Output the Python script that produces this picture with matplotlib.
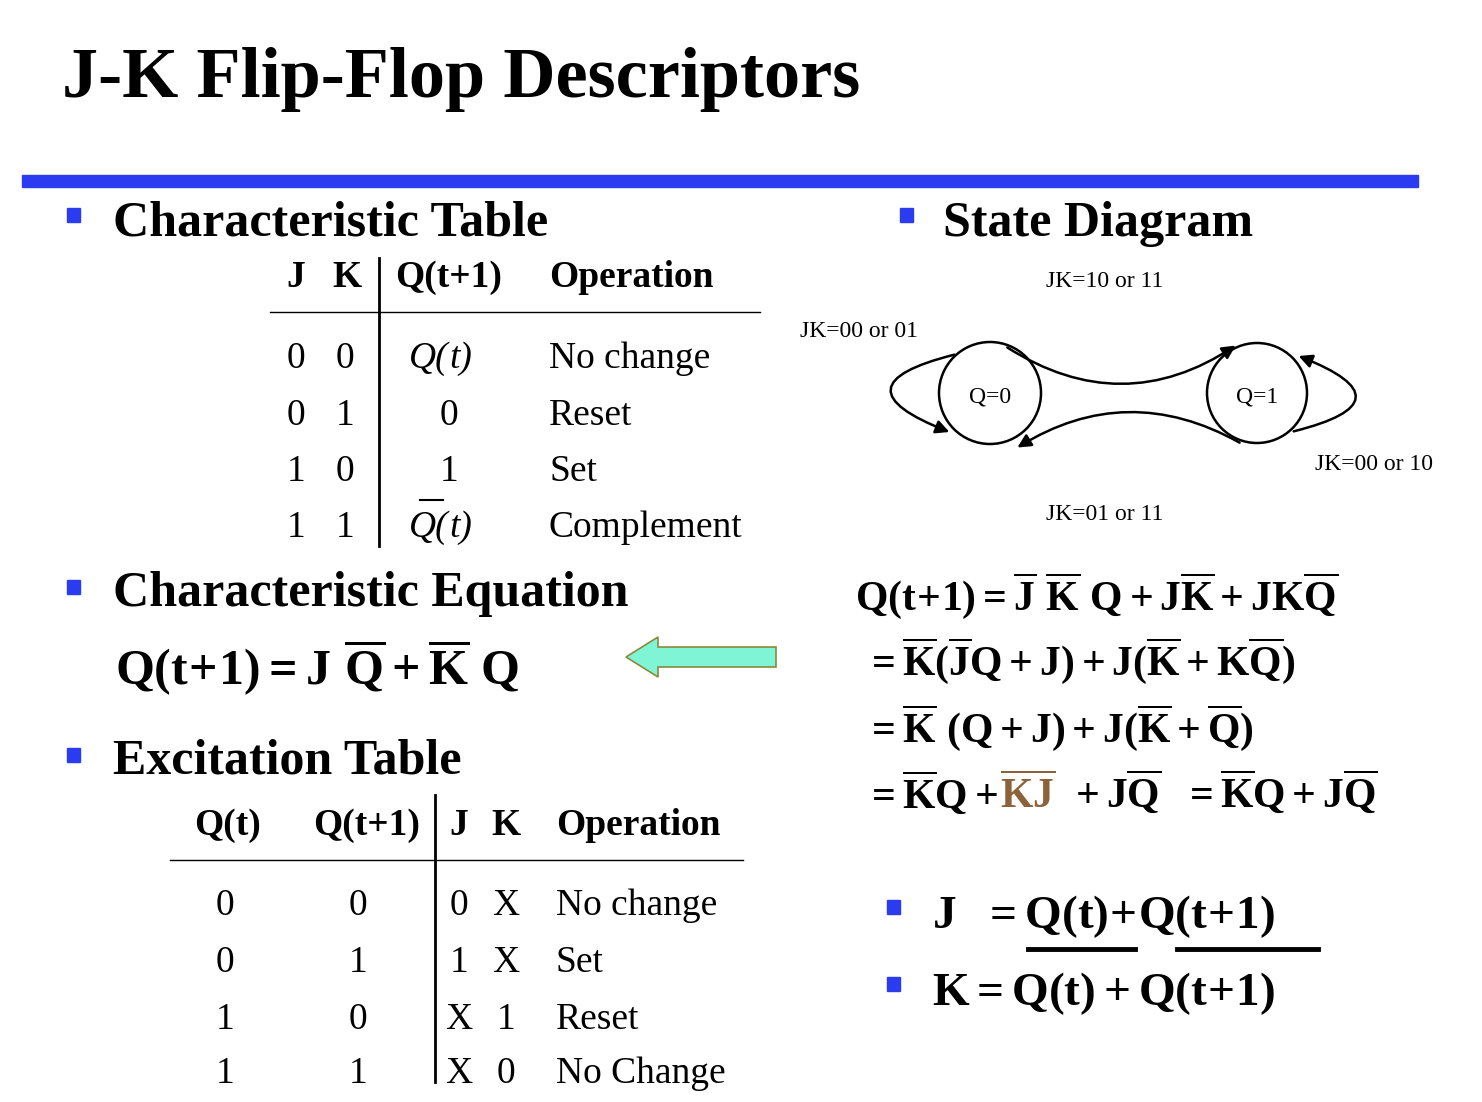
import matplotlib
matplotlib.use("Agg")
import matplotlib.pyplot as plt
from matplotlib.patches import Circle, FancyArrowPatch, Arc, FancyArrow, Rectangle

plt.rcParams['mathtext.fontset'] = 'custom'
plt.rcParams['mathtext.rm'] = 'Liberation Serif:bold'
plt.rcParams['mathtext.it'] = 'Liberation Serif:bold'
plt.rcParams['mathtext.bf'] = 'Liberation Serif:bold'

SERIF = 'Liberation Serif'
BLUE = '#2b3cf0'

title = "J-K Flip-Flop Descriptors"
char_header = ["J", "K", "Q(t+1)", "Operation"]
char_J = ["0", "0", "1", "1"]
char_K = ["0", "1", "0", "1"]
char_Q = ["Q(t)", "0", "1", "Q(t)"]
char_op = ["No change", "Reset", "Set", "Complement"]
exc_header = ["Q(t)", "Q(t+1)", "J", "K", "Operation"]
exc_Qt = ["0", "0", "1", "1"]
exc_Qn = ["0", "1", "0", "1"]
exc_J = ["0", "1", "X", "X"]
exc_K = ["X", "X", "1", "0"]
exc_op = ["No change", "Set", "Reset", "No Change"]
states = ["Q=0", "Q=1"]
transitions = ["JK=10 or 11", "JK=00 or 01", "JK=00 or 10", "JK=01 or 11"]

fig = plt.figure(figsize=(14.82, 11.02), dpi=100)
ax = fig.add_axes([0, 0, 1, 1])
ax.set_xlim(0, 1482)
ax.set_ylim(1102, 0)
ax.axis('off')

def txt(x, y, s, size, bold=False, ha='left', style='normal', color='black', family=SERIF):
    return ax.text(x, y, s, fontsize=size, fontweight='bold' if bold else 'normal',
                   ha=ha, va='baseline', family=family, style=style, color=color)

txt(62, 97, title, 52, bold=True)
ax.add_patch(Rectangle((22, 175), 1396, 12, color=BLUE))

def bullet(x, y):
    ax.add_patch(Rectangle((x, y), 13, 14, color=BLUE))

# Characteristic table
bullet(67, 208)
txt(113, 236, "Characteristic Table", 36, bold=True)
hx = [296, 347, 449, 549]
for i, h in enumerate(char_header):
    txt(hx[i], 287, h, 27, bold=True, ha='left' if i == 3 else 'center')
ax.plot([379, 379], [258, 546], color='black', lw=2)
ax.plot([270, 760], [312, 312], color='black', lw=1)
rows_y = [368, 425, 481, 537]
for i, y in enumerate(rows_y):
    txt(296, y, char_J[i], 27, ha='center')
    txt(345, y, char_K[i], 27, ha='center')
    it = char_Q[i] != "0" and char_Q[i] != "1"
    if it:
        txt(449, y, "Q(", 27, ha='right', style='italic')
        txt(449, y, "t)", 27, ha='left', style='italic')
    else:
        txt(449, y, char_Q[i], 27, ha='center')
    txt(549, y, char_op[i], 27)
ax.plot([420, 443], [500, 500], color='black', lw=1.5)

# Characteristic equation
bullet(67, 580)
txt(113, 606, "Characteristic Equation", 36, bold=True)
ax.text(115, 685, r'$\mathrm{Q(t\!+\!1) = J\ \overline{Q} + \overline{K}\ Q}$', fontsize=36, va='baseline')
ax.add_patch(FancyArrow(776, 657, -150, 0, width=20, head_width=40, head_length=32,
                        length_includes_head=True, facecolor='#80f5d5', edgecolor='#8a8a3a', lw=1.2))

# Excitation table
bullet(67, 748)
txt(113, 773, "Excitation Table", 36, bold=True)
ex = [227, 367, 459, 506, 556]
for i, h in enumerate(exc_header):
    txt(ex[i], 835, h, 27, bold=True, ha='left' if i == 4 else 'center')
ax.plot([435, 435], [795, 1082], color='black', lw=2)
ax.plot([170, 743], [860, 860], color='black', lw=1)
rows_y2 = [915, 972, 1029, 1083]
for i, y in enumerate(rows_y2):
    txt(225, y, exc_Qt[i], 27, ha='center')
    txt(358, y, exc_Qn[i], 27, ha='center')
    txt(459, y, exc_J[i], 27, ha='center')
    txt(506, y, exc_K[i], 27, ha='center')
    txt(556, y, exc_op[i], 27)

# State diagram
bullet(900, 208)
txt(943, 236, "State Diagram", 36, bold=True)
c0, c1 = (990, 393), (1257, 393)
ax.add_patch(Circle(c0, 51, fill=False, lw=1.8))
ax.add_patch(Circle(c1, 50, fill=False, lw=1.8))
txt(c0[0], 402, states[0], 17, ha='center')
txt(c1[0], 402, states[1], 17, ha='center')
ax.add_patch(FancyArrowPatch((1005, 346), (1238, 344), connectionstyle='arc3,rad=0.33',
                             arrowstyle='-|>,head_length=8,head_width=4', lw=1.8, color='black'))
ax.add_patch(FancyArrowPatch((1242, 444), (1015, 449), connectionstyle='arc3,rad=0.3',
                             arrowstyle='-|>,head_length=8,head_width=4', lw=1.8, color='black'))
ax.add_patch(FancyArrowPatch((957, 354), (952, 433), connectionstyle='arc3,rad=1.6',
                             arrowstyle='-|>,head_length=8,head_width=4', lw=1.8, color='black'))
ax.add_patch(FancyArrowPatch((1291, 432), (1296, 355), connectionstyle='arc3,rad=1.6',
                             arrowstyle='-|>,head_length=8,head_width=4', lw=1.8, color='black'))
txt(1105, 287, transitions[0], 17, ha='center')
txt(800, 337, transitions[1], 17)
txt(1315, 470, transitions[2], 17)
txt(1105, 520, transitions[3], 17, ha='center')

# Derivation
eq = [
    (855, 610, [(r'$\mathrm{Q(t\!+\!1) = \overline{J}\ \overline{K}\ Q + J\overline{K} + JK\overline{Q}}$', 'black')]),
    (865, 675, [(r'$\mathrm{= \overline{K}(\overline{J}Q + J) + J(\overline{K} + K\overline{Q})}$', 'black')]),
    (865, 742, [(r'$\mathrm{= \overline{K}\ (Q + J) + J(\overline{K} + \overline{Q})}$', 'black')]),
    (865, 808, [(r'$\mathrm{= \overline{K}Q +\ }$', 'black'), (r'$\mathrm{\overline{KJ}}$', '#8c6239'),
                (r'$\mathrm{\ +J\overline{Q}\ \ = \overline{K}Q + J\overline{Q}}$', 'black')]),
]
fig.canvas.draw()
r = fig.canvas.get_renderer()
inv = ax.transData.inverted()
for x, y, parts in eq:
    for s, col in parts:
        t = ax.text(x, y, s, fontsize=30, va='baseline', color=col)
        bb = t.get_window_extent(r)
        x = inv.transform((bb.x1, bb.y0))[0] + 2

bullet(887, 900)
bullet(887, 977)
ax.text(932, 928, r'$\mathrm{J\ \ = Q(t)\!+\!Q(t\!+\!1)}$', fontsize=34, va='baseline')
ax.text(932, 1005, r'$\mathrm{K = Q(t) + Q(t\!+\!1)}$', fontsize=34, va='baseline')
ax.plot([1028, 1135], [949, 949], color='black', lw=3.5)
ax.plot([1177, 1318], [949, 949], color='black', lw=3.5)

fig.savefig("out.png", dpi=100)
